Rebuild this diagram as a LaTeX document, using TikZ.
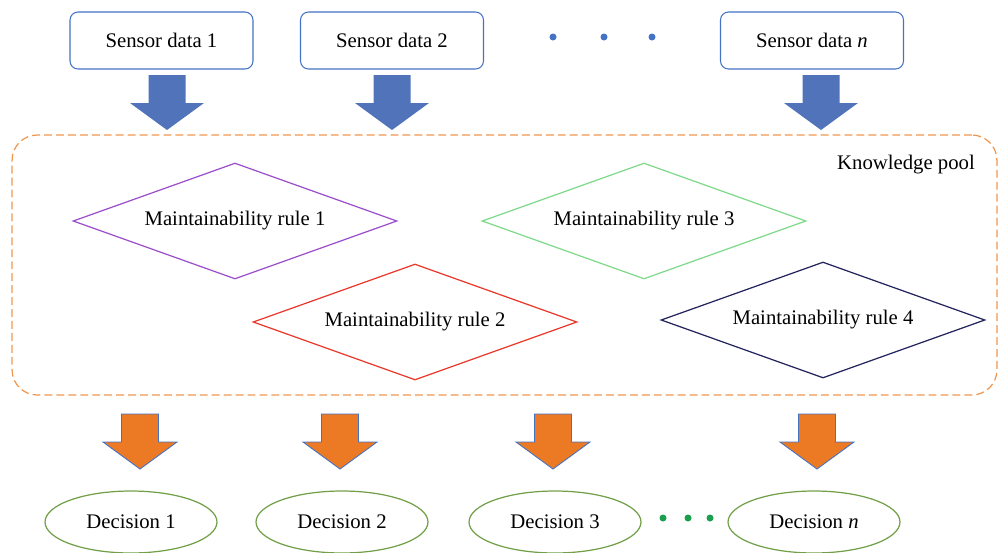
\documentclass[tikz,border=0pt]{standalone}
\usepackage{fontspec}
\setmainfont{Liberation Serif}
\usetikzlibrary{shapes.geometric}

\definecolor{sensorblue}{HTML}{4472C4}
\definecolor{arrowblue}{HTML}{5073BA}
\definecolor{arroworange}{HTML}{EC7A24}
\definecolor{poolorange}{HTML}{F0964E}
\definecolor{rulepurple}{HTML}{9B4FCB}
\definecolor{rulered}{HTML}{E8392B}
\definecolor{rulegreen}{HTML}{7FD98A}
\definecolor{rulenavy}{HTML}{23235E}
\definecolor{decgreen}{HTML}{72A048}
\definecolor{dotgreen}{HTML}{1AA04C}

\begin{document}
\begin{tikzpicture}[
    x=0.02cm, y=-0.02cm,
    font=\fontsize{11.8}{14}\selectfont,
    sensor/.style={rectangle, rounded corners=0.16cm, draw=sensorblue, line width=0.6pt, minimum height=1.14cm, minimum width=3.66cm},
    rule/.style={diamond, draw, line width=0.7pt, shape aspect=2.8, minimum height=2.32cm, minimum width=6.48cm, inner sep=0pt},
    decision/.style={ellipse, draw=decgreen, line width=0.7pt, minimum height=1.24cm, minimum width=3.44cm},
    pool/.style={rectangle, rounded corners=0.5cm, draw=poolorange, line width=0.7pt, dash pattern=on 4.5pt off 2.3pt, minimum width=19.7cm, minimum height=5.2cm},
    dot/.style={circle, inner sep=0pt, minimum size=0.14cm},
    blockarrow/.pic={\path[pic actions] (-18.5,0) -- (-18.5,28) -- (-37,28) -- (0,55) -- (37,28) -- (18.5,28) -- (18.5,0) -- cycle;}
]
\useasboundingbox (0,0) rectangle (998,552);

% Nodes
\node[sensor] (s1) at (161.5,40.5) {Sensor data 1};
\node[sensor] (s2) at (392,40.5) {Sensor data 2};
\node[sensor] (sn) at (812,40.5) {Sensor data \textit{n}};
\node[dot, fill=sensorblue] (t1) at (553,37) {};
\node[dot, fill=sensorblue] (t2) at (604,37) {};
\node[dot, fill=sensorblue] (t3) at (652,37) {};

\node[pool] (pool) at (504.5,265) {};
\node (kp) at (906,165) {Knowledge pool};

\node[rule, draw=rulepurple] (r1) at (235,221) {Maintainability rule 1};
\node[rule, draw=rulered] (r2) at (415,322) {Maintainability rule 2};
\node[rule, draw=rulegreen] (r3) at (644,221) {Maintainability rule 3};
\node[rule, draw=rulenavy] (r4) at (823,320) {Maintainability rule 4};

\node[decision] (d1) at (131,522) {Decision 1};
\node[decision] (d2) at (342,522) {Decision 2};
\node[decision] (d3) at (555,522) {Decision 3};
\node[decision] (dn) at (814,522) {Decision \textit{n}};
\node[dot, fill=dotgreen] (g1) at (663,518) {};
\node[dot, fill=dotgreen] (g2) at (688,518) {};
\node[dot, fill=dotgreen] (g3) at (710,518) {};

% Arrows
\pic[fill=arrowblue] at (167,75) {blockarrow};
\pic[fill=arrowblue] at (392,75) {blockarrow};
\pic[fill=arrowblue] at (821,75) {blockarrow};

\pic[fill=arroworange, draw=sensorblue, line width=0.5pt] at (140,414) {blockarrow};
\pic[fill=arroworange, draw=sensorblue, line width=0.5pt] at (340,414) {blockarrow};
\pic[fill=arroworange, draw=sensorblue, line width=0.5pt] at (553,414) {blockarrow};
\pic[fill=arroworange, draw=sensorblue, line width=0.5pt] at (817,414) {blockarrow};

\end{tikzpicture}
\end{document}
